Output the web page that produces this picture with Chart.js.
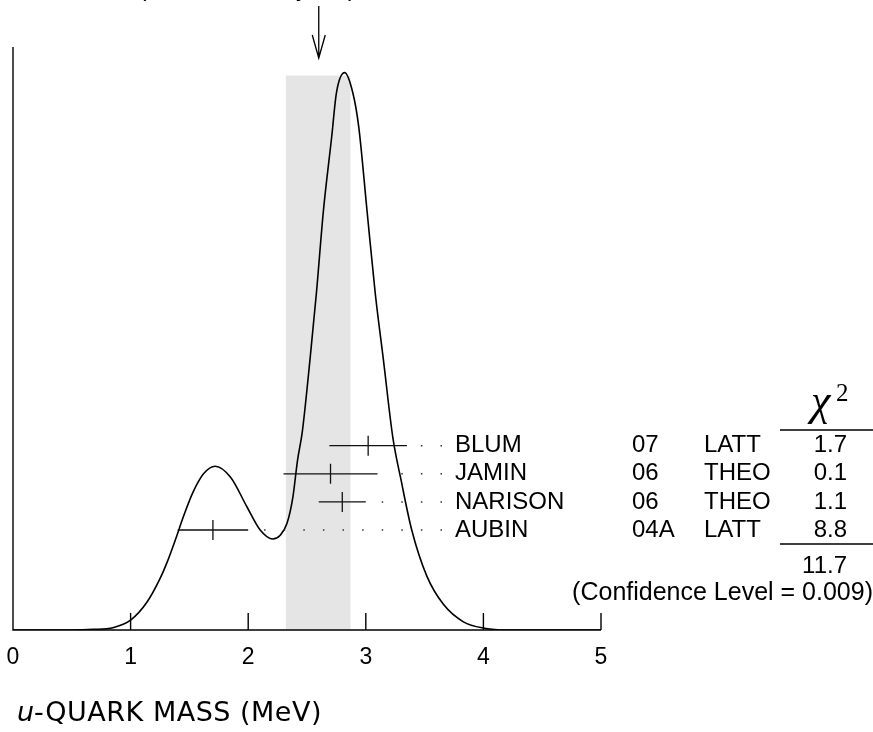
<!DOCTYPE html>
<html>
<head>
<meta charset="utf-8">
<script src="https://cdn.jsdelivr.net/npm/chart.js@4.4.1/dist/chart.umd.min.js"></script>
<style>
  html, body { margin: 0; padding: 0; background: #fff; }
  #wrap { width: 873px; height: 732px; }
</style>
</head>
<body>
<div id="wrap"><canvas id="c" width="873" height="732"></canvas></div>
<script>
    // ideogram curve (mass in MeV, relative height)
    const curveX = [0.0, 0.5, 0.68, 0.85, 1.00, 1.14, 1.25, 1.31, 1.39, 1.45, 1.53, 1.62, 1.72, 1.85, 1.99, 2.10, 2.21, 2.27, 2.33, 2.38, 2.42, 2.46, 2.525, 2.58, 2.64, 2.71, 2.75, 2.82, 2.89, 2.94, 3.01, 3.08, 3.15, 3.23, 3.30, 3.39, 3.52, 3.66, 3.83, 4.01, 4.2, 5.0];
    const curveY = [0, 0, 0.001, 0.004, 0.017, 0.048, 0.088, 0.116, 0.160, 0.195, 0.236, 0.268, 0.281, 0.262, 0.211, 0.172, 0.156, 0.162, 0.183, 0.228, 0.292, 0.340, 0.463, 0.578, 0.720, 0.846, 0.921, 0.956, 0.921, 0.863, 0.720, 0.578, 0.463, 0.330, 0.257, 0.172, 0.092, 0.044, 0.014, 0.003, 0, 0];

    // measurements
    const names  = ['BLUM', 'JAMIN', 'NARISON', 'AUBIN'];
    const years  = ['07', '06', '06', '04A'];
    const kinds  = ['LATT', 'THEO', 'THEO', 'LATT'];
    const values = [3.02, 2.7, 2.8, 1.7];
    const errors = [0.33, 0.4, 0.2, 0.3];
    const chi2   = ['1.7', '0.1', '1.1', '8.8'];
    const chi2Total = '11.7';
    const confLevel = '(Confidence Level = 0.009)';

    // weighted average and its (scaled) error band
    const avg = 2.6;
    const bandLow = 2.32;
    const bandHigh = 2.87;
    const bandTop = 0.951;
    const avgText = '2.6\u00b10.3 (Error scaled by 2.0)';

    const xTicks = [0, 1, 2, 3, 4, 5];

    const SANS = '"Liberation Sans", Arial, Helvetica, sans-serif';

    const ideogram = {
        id: 'ideogram',
        beforeDatasetsDraw(chart) {
            const { ctx, scales: { x, y } } = chart;
            // error band
            ctx.save();
            ctx.fillStyle = '#e5e5e5';
            const x0 = x.getPixelForValue(bandLow), x1 = x.getPixelForValue(bandHigh);
            const yt = y.getPixelForValue(bandTop), yb = y.getPixelForValue(0);
            ctx.fillRect(x0, yt, x1 - x0, yb - yt);
            ctx.restore();
        },
        afterDatasetsDraw(chart) {
            const { ctx, chartArea: a, scales: { x, y } } = chart;
            ctx.save();
            ctx.strokeStyle = '#000';
            ctx.fillStyle = '#000';
            ctx.lineWidth = 1.4;

            // axes
            const base = y.getPixelForValue(0);
            ctx.beginPath();
            ctx.moveTo(a.left, a.top);
            ctx.lineTo(a.left, base);
            ctx.lineTo(a.right, base);
            xTicks.forEach(t => {
                if (t === 0) return;
                const px = x.getPixelForValue(t);
                ctx.moveTo(px, base);
                ctx.lineTo(px, base - 17);
            });
            ctx.stroke();

            // tick labels
            ctx.font = '23px ' + SANS;
            ctx.textAlign = 'center';
            ctx.textBaseline = 'middle';
            xTicks.forEach(t => ctx.fillText(String(t), x.getPixelForValue(t), 658));

            // axis title
            ctx.textAlign = 'left';
            ctx.font = 'italic 27px "DejaVu Sans", sans-serif';
            ctx.fillText('u', 17, 714);
            const uw = ctx.measureText('u').width;
            ctx.font = '27px "DejaVu Sans", sans-serif';
            ctx.letterSpacing = '0.5px';
            ctx.fillText('-QUARK MASS (MeV)', 17 + uw, 714);
            ctx.letterSpacing = '0px';

            // arrow at the average
            const ax = x.getPixelForValue(avg);
            ctx.lineWidth = 1.3;
            ctx.beginPath();
            ctx.moveTo(ax, 6);
            ctx.lineTo(ax, 58);
            ctx.moveTo(ax - 6.5, 35);
            ctx.lineTo(ax, 58);
            ctx.lineTo(ax + 6.5, 35);
            ctx.stroke();

            // clipped average text at the very top
            ctx.font = '24px ' + SANS;
            ctx.textAlign = 'right';
            ctx.textBaseline = 'alphabetic';
            ctx.fillText(avgText, 356, -4.5);

            // measurements
            const labelX = 455, leaderEnd = 442;
            names.forEach((n, i) => {
                const py = 445.7 + i * 28.1;
                const lo = x.getPixelForValue(values[i] - errors[i]);
                const hi = x.getPixelForValue(values[i] + errors[i]);
                const c = x.getPixelForValue(values[i]);
                ctx.strokeStyle = '#111';
                ctx.lineWidth = 1.3;
                ctx.beginPath();
                ctx.moveTo(lo, py); ctx.lineTo(hi, py);
                ctx.moveTo(c, py - 10); ctx.lineTo(c, py + 10);
                ctx.stroke();

                // dotted leader, laid out from the label side
                ctx.save();
                ctx.strokeStyle = '#333';
                ctx.lineWidth = 1.5;
                ctx.setLineDash([1.5, 18.1]);
                ctx.beginPath();
                ctx.moveTo(leaderEnd, py);
                ctx.lineTo(hi + 10, py);
                ctx.stroke();
                ctx.restore();

                ctx.font = '24px ' + SANS;
                ctx.textBaseline = 'middle';
                ctx.textAlign = 'left';
                ctx.fillText(n, labelX, py);
                ctx.fillText(years[i], 632, py);
                ctx.fillText(kinds[i], 704, py);
                ctx.textAlign = 'right';
                ctx.fillText(chi2[i], 847, py);
            });

            // chi^2 header and totals
            ctx.textAlign = 'left';
            ctx.textBaseline = 'alphabetic';
            ctx.font = 'italic 44px "Liberation Serif", "Times New Roman", serif';
            ctx.fillText('\u03c7', 811, 415);
            ctx.font = '25px "Liberation Serif", "Times New Roman", serif';
            ctx.fillText('2', 836, 401);

            ctx.strokeStyle = '#000';
            ctx.lineWidth = 1.3;
            ctx.beginPath();
            ctx.moveTo(780, 430); ctx.lineTo(873, 430);
            ctx.moveTo(780, 544); ctx.lineTo(873, 544);
            ctx.stroke();

            ctx.font = '24px ' + SANS;
            ctx.textBaseline = 'middle';
            ctx.textAlign = 'right';
            ctx.fillText(chi2Total, 847, 566);
            ctx.font = '25px ' + SANS;
            ctx.fillText(confLevel, 873, 593);
            ctx.restore();
        }
    };

    new Chart(document.getElementById('c'), {
        type: 'line',
        data: {
            datasets: [{
                data: curveX.map((v, i) => ({ x: v, y: curveY[i] })),
                borderColor: '#000',
                borderWidth: 1.6,
                pointRadius: 0,
                fill: false,
                cubicInterpolationMode: 'monotone'
            }]
        },
        options: {
            responsive: false,
            animation: false,
            events: [],
            layout: { padding: { left: 13, right: 272, top: 47, bottom: 102 } },
            plugins: { legend: { display: false }, tooltip: { enabled: false } },
            scales: {
                x: { type: 'linear', min: 0, max: 5, display: false },
                y: { type: 'linear', min: 0, max: 1, display: false }
            }
        },
        plugins: [ideogram]
    });
</script>
</body>
</html>
